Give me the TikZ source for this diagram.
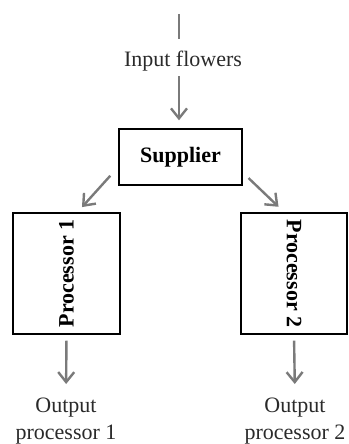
\documentclass[tikz,border=0pt]{standalone}
\usepackage{fontspec}
\setmainfont{Liberation Serif}
\usetikzlibrary{arrows.meta}
\definecolor{arrowgray}{HTML}{7A7A7A}
\definecolor{textgray}{HTML}{2A2A2A}
\begin{document}
\begin{tikzpicture}[x=1pt,y=-1pt,
  flow/.style={draw=arrowgray,line width=2.4pt,-{Straight Barb[length=10pt,width=16pt,line width=2.4pt]}},
  plain/.style={draw=arrowgray,line width=2.4pt},
  box/.style={draw=black,line width=1.4pt,inner sep=0pt,font=\fontsize{22}{26}\selectfont\bfseries},
  lbl/.style={inner sep=0pt,outer sep=0pt,align=center,text=textgray,font=\fontsize{22}{27}\selectfont}]
\useasboundingbox (0,0) rectangle (348,444);
\coordinate (top) at (179,14);
\node[lbl] (in) at (183,61) {Input flowers};
\node[box,minimum width=123pt,minimum height=56pt] (sup) at (180.5,157) {Supplier};
\node[box,minimum width=107pt,minimum height=121pt] (p1) at (66.5,273.5) {\rotatebox{90}{Processor 1}};
\node[box,minimum width=106pt,minimum height=121pt] (p2) at (294,273.5) {\rotatebox{-90}{Processor 2}};
\node[lbl,anchor=north] (o1) at (66,398) {Output\\processor 1};
\node[lbl,anchor=north] (o2) at (295,398) {Output\\processor 2};
\draw[plain,shorten >=12pt] (top) -- (top |- in.north);
\draw[flow,shorten <=5pt,shorten >=8pt] (in.south -| top) -- (sup.north -| top);
\draw[flow,shorten <=12pt,shorten >=7pt] (sup.189) -- (p1.80);
\draw[flow,shorten <=8pt,shorten >=8pt] (sup.-14) -- (p2.99);
\draw[flow,shorten <=6pt,shorten >=14pt] (p1.south) -- (o1.north);
\draw[flow,shorten <=6pt,shorten >=14pt] (p2.south) -- (o2.north);
\end{tikzpicture}
\end{document}
